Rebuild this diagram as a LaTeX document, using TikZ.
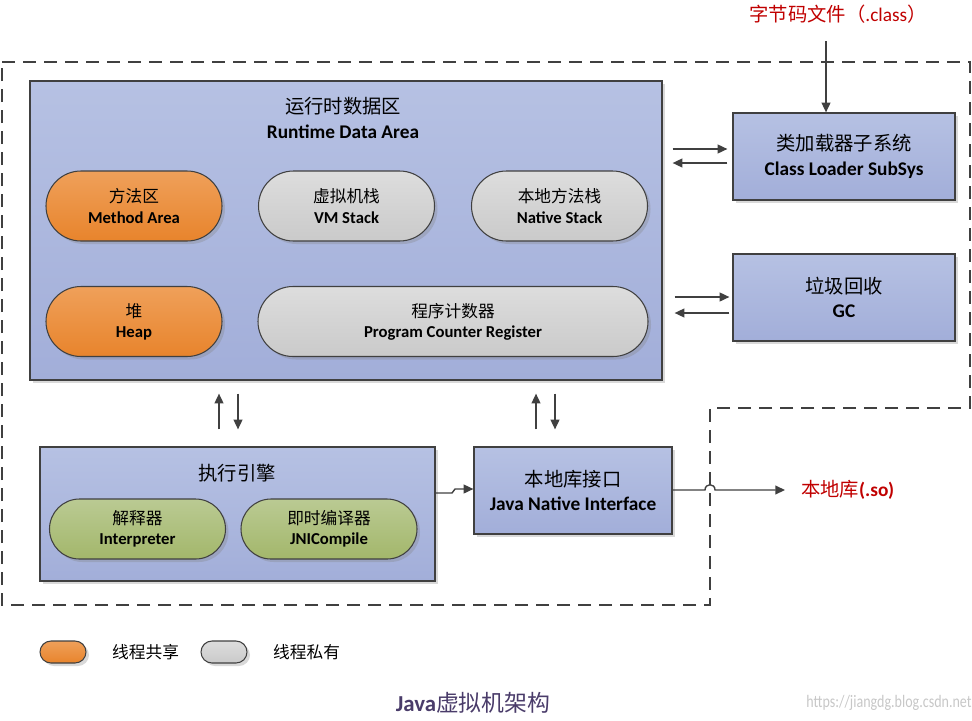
\documentclass[tikz,border=0pt]{standalone}
\usepackage{fontspec}
\setmainfont{Carlito}
\newfontfamily\cjk{Noto Sans CJK SC}
\usetikzlibrary{arrows.meta,shapes.misc,shadows}
\definecolor{edge}{HTML}{404040}
\definecolor{boxtop}{HTML}{B6C1E3}
\definecolor{boxbot}{HTML}{A2AED9}
\definecolor{orgtop}{HTML}{EFA05A}
\definecolor{orgbot}{HTML}{E8842C}
\definecolor{grytop}{HTML}{DDDDDD}
\definecolor{grybot}{HTML}{CACACA}
\definecolor{grntop}{HTML}{BACA93}
\definecolor{grnbot}{HTML}{A3B76B}
\definecolor{redtxt}{HTML}{C00000}
\definecolor{ttltxt}{HTML}{4A3C6A}

\tikzset{
  shade/.style={drop shadow={shadow xshift=0.06cm,shadow yshift=-0.06cm,opacity=0.3}},
  box/.style={draw=edge,line width=0.7pt,top color=boxtop,bottom color=boxbot,shade,inner sep=0pt,align=center,
    font=\fontsize{11}{14}\selectfont},
  pill/.style={rounded rectangle,draw=edge,line width=0.6pt,inner sep=0pt,align=center,shade,
    minimum width=176*0.02cm,minimum height=70*0.02cm,font=\fontsize{9.5}{11.5}\selectfont},
  shared/.style={pill,top color=orgtop,bottom color=orgbot},
  private/.style={pill,top color=grytop,bottom color=grybot},
  engine/.style={pill,top color=grntop,bottom color=grnbot,minimum height=60*0.02cm},
  arr/.style={draw=edge,line width=0.8pt,-{Triangle[length=5.5pt,width=5pt]}},
  outline/.style={draw=edge,line width=1pt,dash pattern=on 13*0.02cm off 8*0.02cm}
}

\begin{document}
\begin{tikzpicture}[x=0.02cm,y=-0.02cm]
  \useasboundingbox (0,0) rectangle (972,720);
  \draw[outline] (2,62) -- (970,62) -- (970,408) -- (710,408) -- (710,605) -- (2,605) -- cycle;

  \node[box,minimum width=632*0.02cm,minimum height=299*0.02cm] (rda) at (346,230.5) {};
  \node[font=\fontsize{11}{14}\selectfont,align=center] (rdat) at (343,118) {{\cjk 运行时数据区}\\\textbf{Runtime Data Area}};
  \node[shared] (ma) at (134,206) {{\cjk 方法区}\\\textbf{Method Area}};
  \node[private] (vms) at (346.5,206) {{\cjk 虚拟机栈}\\\textbf{VM Stack}};
  \node[private] (ns) at (559.5,206) {{\cjk 本地方法栈}\\\textbf{Native Stack}};
  \node[shared] (heap) at (134,321.5) {{\cjk 堆}\\\textbf{Heap}};
  \node[private,minimum width=390*0.02cm] (pcr) at (453,321.5) {{\cjk 程序计数器}\\\textbf{Program Counter Register}};

  \node[box,minimum width=222*0.02cm,minimum height=87*0.02cm] (cl) at (844,156.5) {{\cjk 类加载器子系统}\\\textbf{Class Loader SubSys}};
  \node[box,minimum width=222*0.02cm,minimum height=87*0.02cm] (gc) at (844,297.5) {{\cjk 垃圾回收}\\\textbf{GC}};
  \node[font=\fontsize{11}{14}\selectfont,text=redtxt] (cls) at (838,14) {{\cjk 字节码文件（}.class{\cjk ）}};

  \node[box,minimum width=395*0.02cm,minimum height=134*0.02cm] (exe) at (237.5,514) {};
  \node[font=\fontsize{11}{14}\selectfont] (exet) at (237,473) {\cjk 执行引擎};
  \node[engine] (itp) at (137.5,529) {{\cjk 解释器}\\\textbf{Interpreter}};
  \node[engine] (jit) at (329,529) {{\cjk 即时编译器}\\\textbf{JNICompile}};

  \node[box,minimum width=198*0.02cm,minimum height=87*0.02cm] (jni) at (573,490.5) {{\cjk 本地库接口}\\\textbf{Java Native Interface}};
  \node[font=\fontsize{11}{14}\selectfont,text=redtxt,anchor=west] (so) at (795,490) {{\cjk 本地库}\textbf{(.so)}};

  \draw[arr] (cl.north -| 826,0) ++(0,-71) -- (cl.north -| 826,0);
  \draw[arr,shorten <=10*0.02cm,shorten >=5*0.02cm] (rda.east |- 0,149) -- (cl.west |- 0,149);
  \draw[arr,shorten <=5*0.02cm,shorten >=10*0.02cm] (cl.west |- 0,163) -- (rda.east |- 0,163);
  \draw[arr,shorten <=12*0.02cm,shorten >=3*0.02cm] (rda.east |- 0,297) -- (gc.west |- 0,297);
  \draw[arr,shorten <=3*0.02cm,shorten >=12*0.02cm] (gc.west |- 0,313) -- (rda.east |- 0,313);

  \draw[arr,shorten <=17*0.02cm,shorten >=13*0.02cm] (exe.north -| 219,0) -- (rda.south -| 219,0);
  \draw[arr,shorten <=13*0.02cm,shorten >=17*0.02cm] (rda.south -| 238,0) -- (exe.north -| 238,0);
  \draw[arr,shorten <=17*0.02cm,shorten >=13*0.02cm] (jni.north -| 536,0) -- (rda.south -| 536,0);
  \draw[arr,shorten <=13*0.02cm,shorten >=17*0.02cm] (rda.south -| 555,0) -- (jni.north -| 555,0);

  \draw[arr] (exe.east |- 0,493) -- (452,493) -- (455,489) -- (jni.west |- 0,489);
  \draw[arr] (jni.east |- so.west) -- (705,490) .. controls (705,483) and (715,483) .. (715,490) -- ([xshift=-10*0.02cm]so.west);

  \node[shared,minimum width=46*0.02cm,minimum height=22*0.02cm] (lgs) at (63,652) {};
  \node[font=\fontsize{9.5}{11}\selectfont\cjk,anchor=west] (lgst) at (106,652) {线程共享};
  \node[private,minimum width=46*0.02cm,minimum height=22*0.02cm] (lgp) at (224,652) {};
  \node[font=\fontsize{9.5}{11}\selectfont\cjk,anchor=west] (lgpt) at (267,652) {线程私有};

  \node[font=\fontsize{13}{15}\selectfont,text=ttltxt] (ttl) at (473,703) {\textbf{Java}{\cjk 虚拟机架构}};
  \node[font=\fontsize{10}{12}\selectfont,text=black!22,xscale=0.8] (wm) at (889,703) {https://jiangdg.blog.csdn.net};
\end{tikzpicture}
\end{document}
